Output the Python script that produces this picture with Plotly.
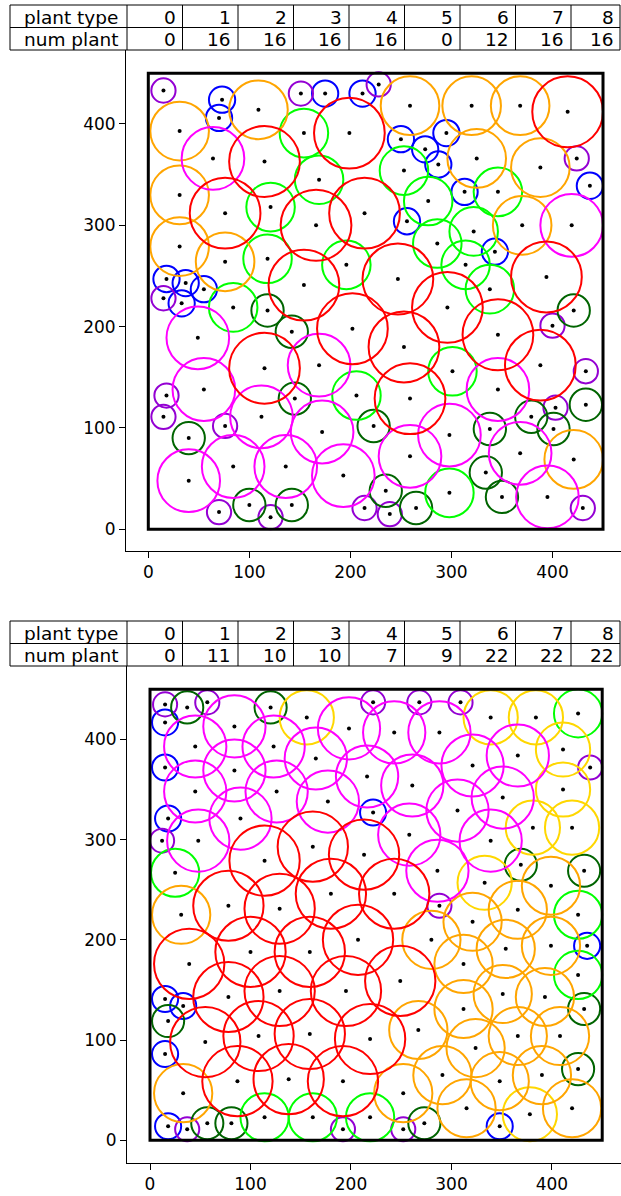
import plotly.graph_objects as go

W, H = 621, 1196
FIELD_SIZE = 450

# ---------------- table data ----------------
plant_types = [0, 1, 2, 3, 4, 5, 6, 7, 8]
num_plant_top = [0, 16, 16, 16, 16, 0, 12, 16, 16]
num_plant_bottom = [0, 11, 10, 10, 7, 9, 22, 22, 22]
row_labels = ["plant type", "num plant"]
tick_values = [0, 100, 200, 300, 400]

# ---------------- top field: plant centres per type ----------------
top_t1 = [(73, 424), (70, 406), (175, 430), (212, 430), (18, 247), (37, 243), (55, 237), (33, 223),
          (250, 385), (274, 375), (295, 391), (287, 360), (437, 339), (313, 333), (256, 304), (343, 274)]
top_t2 = [(15, 433), (151, 430), (228, 439), (15, 228), (424, 366), (18, 132), (15, 111), (76, 102),
          (70, 17), (121, 12), (214, 21), (400, 201), (433, 156), (403, 120), (239, 15), (430, 21)]
top_t3 = [(118, 216), (142, 195), (145, 129), (40, 90), (223, 102), (100, 24), (142, 24), (421, 216),
          (433, 123), (379, 111), (401, 99), (338, 99), (334, 56), (235, 38), (350, 32), (265, 21)]
top_t4 = [(154, 391), (169, 345), (121, 318), (118, 267), (196, 261), (84, 219), (206, 132), (253, 354),
          (277, 324), (346, 333), (322, 294), (286, 282), (314, 261), (338, 237), (301, 156), (298, 36)]
top_t5 = []
top_t6 = [(109, 414), (31, 393), (31, 330), (31, 279), (76, 264), (259, 418), (320, 418), (368, 418),
          (325, 366), (388, 357), (370, 300), (421, 69)]
top_t7 = [(64, 366), (49, 189), (169, 162), (55, 138), (112, 111), (172, 96), (84, 62), (136, 62),
          (40, 48), (193, 53), (419, 300), (346, 138), (298, 93), (259, 72), (368, 75), (395, 32)]
top_t8 = [(115, 363), (199, 391), (76, 312), (166, 300), (214, 312), (154, 241), (202, 198), (115, 159),
          (247, 247), (394, 249), (415, 412), (296, 219), (253, 180), (346, 192), (388, 162), (259, 129)]

# ---------------- bottom field: plant centres per type ----------------
bot_t1 = [(15, 417), (15, 372), (18, 321), (222, 327), (15, 141), (33, 134), (15, 86), (18, 14),
          (435, 194), (348, 14)]
bot_t2 = [(15, 435), (57, 437), (222, 437), (12, 299), (268, 437), (309, 437), (438, 372), (288, 234),
          (37, 11), (192, 11), (252, 11)]
bot_t3 = [(37, 432), (120, 432), (369, 275), (432, 269), (18, 119), (57, 17), (81, 17), (432, 131),
          (426, 71), (273, 17)]
bot_t4 = [(25, 267), (426, 426), (426, 225), (114, 23), (162, 23), (219, 23), (426, 165)]
bot_t5 = [(156, 422), (339, 422), (384, 422), (411, 390), (411, 350), (381, 312), (420, 312),
          (333, 257), (378, 26)]
bot_t6 = [(31, 225), (399, 254), (366, 230), (33, 47), (321, 218), (280, 200), (399, 194), (354, 191),
          (312, 176), (351, 146), (393, 143), (312, 131), (267, 110), (366, 104), (408, 104), (324, 92),
          (291, 65), (348, 59), (390, 65), (252, 47), (315, 32), (420, 32)]
bot_t7 = [(84, 413), (45, 393), (123, 393), (198, 411), (165, 381), (84, 369), (216, 363), (45, 348),
          (126, 348), (177, 338), (90, 321), (48, 299), (243, 407), (288, 407), (366, 384), (321, 374),
          (261, 354), (351, 342), (306, 329), (258, 305), (339, 299), (286, 269)]
bot_t8 = [(162, 293), (114, 279), (213, 285), (78, 234), (129, 231), (180, 246), (39, 176), (100, 188),
          (159, 188), (207, 200), (78, 143), (129, 149), (195, 149), (55, 98), (108, 104), (159, 106),
          (219, 101), (87, 59), (138, 61), (192, 59), (243, 246), (249, 159)]

# ---------------- styles ----------------
TYPE_RADIUS = {1: 13, 2: 12, 3: 16, 4: 24, 5: 27, 6: 29, 7: 31, 8: 35}
TYPE_COLOR = {1: "#0000FF", 2: "#9400D3", 3: "#006400", 4: "#00FF00",
              5: "#FFD700", 6: "#FFA500", 7: "#FF00FF", 8: "#FF0000"}
FONT = "DejaVu Sans"

top_groups = {1: top_t1, 2: top_t2, 3: top_t3, 4: top_t4, 5: top_t5, 6: top_t6, 7: top_t7, 8: top_t8}
bot_groups = {1: bot_t1, 2: bot_t2, 3: bot_t3, 4: bot_t4, 5: bot_t5, 6: bot_t6, 7: bot_t7, 8: bot_t8}

fig = go.Figure()
shapes = []
annotations = []


def px2p(px):
    return px / W


def py2p(py):
    return 1 - py / H


def add_panel(groups, xref, yref):
    xs, ys = [], []
    for t, pts in groups.items():
        r = TYPE_RADIUS[t]
        for (x, y) in pts:
            shapes.append(dict(type="circle", xref=xref, yref=yref,
                               x0=x - r, x1=x + r, y0=y - r, y1=y + r,
                               line=dict(color=TYPE_COLOR[t], width=2), layer="below"))
            xs.append(x)
            ys.append(y)
    fig.add_trace(go.Scatter(x=xs, y=ys, mode="markers", xaxis=xref, yaxis=yref,
                             marker=dict(color="black", size=4, line=dict(width=0)),
                             showlegend=False, hoverinfo="skip"))
    shapes.append(dict(type="rect", xref=xref, yref=yref, x0=0, x1=FIELD_SIZE, y0=0, y1=FIELD_SIZE,
                       line=dict(color="black", width=3), layer="above"))


add_panel(top_groups, "x", "y")
add_panel(bot_groups, "x2", "y2")

# table layout (pixels)
TBL_LEFT, TBL_FIRST, TBL_COLW, TBL_RIGHT = 10, 127, 55.5, 620


def add_table(counts, y_top, y_bot):
    y_mid = (y_top + y_bot) / 2
    line = dict(color="black", width=1)
    for yy in (y_top, y_mid, y_bot):
        shapes.append(dict(type="line", xref="paper", yref="paper",
                           x0=px2p(TBL_LEFT), x1=px2p(TBL_RIGHT), y0=py2p(yy), y1=py2p(yy), line=line))
    dividers = [TBL_LEFT] + [TBL_FIRST + k * TBL_COLW for k in range(len(plant_types))] + [TBL_RIGHT]
    for xx in dividers:
        shapes.append(dict(type="line", xref="paper", yref="paper",
                           x0=px2p(xx), x1=px2p(xx), y0=py2p(y_top), y1=py2p(y_bot), line=line))
    rows = [[str(v) for v in plant_types], [str(c) for c in counts]]
    centers = [(y_top + y_mid) / 2 + 1, (y_mid + y_bot) / 2 + 1]
    for label, vals, yc in zip(row_labels, rows, centers):
        annotations.append(dict(text=label, xref="paper", yref="paper", x=px2p(TBL_LEFT + 12),
                                y=py2p(yc), xanchor="left", yanchor="middle", showarrow=False,
                                font=dict(family=FONT, size=18.5, color="black")))
        for k, v in enumerate(vals):
            right = min(TBL_FIRST + (k + 1) * TBL_COLW, W)
            annotations.append(dict(text=v, xref="paper", yref="paper", x=px2p(right - 5),
                                    y=py2p(yc), xanchor="right", yanchor="middle", showarrow=False,
                                    font=dict(family=FONT, size=18.5, color="black")))


add_table(num_plant_top, 5, 50)
add_table(num_plant_bottom, 621, 666)

axis_common = dict(showline=True, linecolor="black", linewidth=1, ticks="outside", ticklen=6,
                   tickwidth=1, tickcolor="black", showgrid=False, zeroline=False, mirror=False,
                   tickvals=tick_values, tickfont=dict(family=FONT, size=17, color="black"),
                   automargin=False)

fig.update_layout(
    width=W, height=H, margin=dict(l=0, r=0, t=0, b=0),
    paper_bgcolor="white", plot_bgcolor="white", showlegend=False,
    shapes=shapes, annotations=annotations, hovermode=False,
    xaxis=dict(domain=[126 / W, 1], range=[-22.07, 467.8], anchor="y", **axis_common),
    yaxis=dict(domain=[py2p(551), py2p(50)], range=[-21.4, 473], anchor="x", **axis_common),
    xaxis2=dict(domain=[127 / W, 1], range=[-22.9, 468.7], anchor="y2", **axis_common),
    yaxis2=dict(domain=[py2p(1162.5), py2p(666)], range=[-22.2, 473.3], anchor="x2", **axis_common),
)

fig.write_html("out.html", config={"displayModeBar": False},
               post_script="document.body.style.margin='0px';")
